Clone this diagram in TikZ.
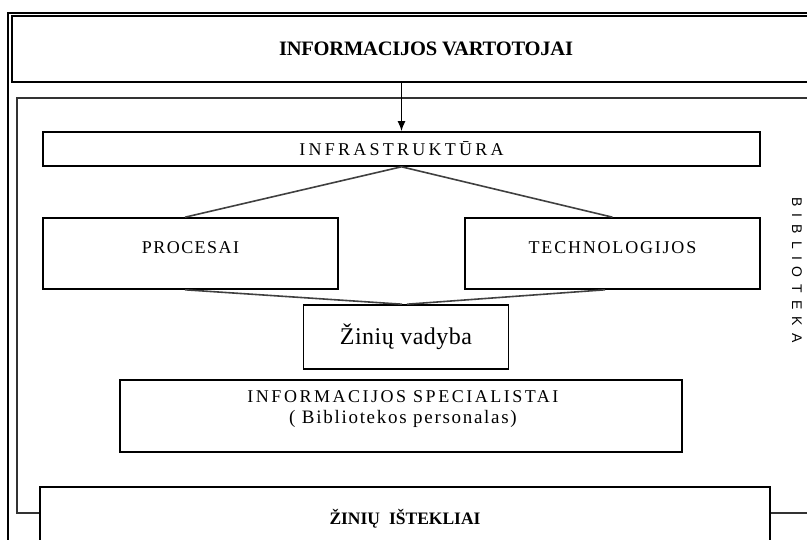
\documentclass[tikz,border=0pt]{standalone}
\usepackage{fontspec}
\setmainfont{Liberation Serif}
\newfontfamily\labsans{Liberation Sans}
\usetikzlibrary{arrows.meta}
\begin{document}
\begin{tikzpicture}[x=1pt,y=-1pt,
  box/.style={draw=black,line width=1.6pt,rectangle,inner sep=0pt},
  upbox/.style={box,text depth=12pt},
  conn/.style={draw=black!75,line width=1.6pt},
  frameline/.style={draw=black,line width=1.8pt},
  libline/.style={draw=black!80,line width=1.5pt}]
\useasboundingbox (0,0) rectangle (807,540);
\clip (0,0) rectangle (807,540);
% outer frame
\draw[frameline] (8,545) -- (8,13) -- (815,13);
% library frame
\draw[libline] (40,513) -- (17,513) -- (17,98) -- (815,98);
\draw[libline] (770,513) -- (815,513);
% top box
\node[box,minimum width=828pt,minimum height=66pt] (vart) at (426,49)
  {\fontsize{20.5}{24}\selectfont\bfseries\addfontfeature{LetterSpace=-1}INFORMACIJOS VARTOTOJAI};
% infrastructure
\node[box,minimum width=717pt,minimum height=34pt] (infra) at (401.5,149)
  {\fontsize{18}{21}\selectfont\addfontfeature{LetterSpace=18}INFRASTRUKTŪRA};
% processes and technologies
\node[upbox,minimum width=295pt,minimum height=71pt] (proc) at (190.5,253.5)
  {\fontsize{18}{21}\selectfont\addfontfeature{LetterSpace=8}PROCESAI};
\node[upbox,minimum width=295pt,minimum height=71pt] (tech) at (612.5,253.5)
  {\fontsize{18}{21}\selectfont\addfontfeature{LetterSpace=10}TECHNOLOGIJOS};
% knowledge management
\node[box,minimum width=205pt,minimum height=64pt] (zin) at (406,337)
  {\fontsize{24}{28}\selectfont\addfontfeature{LetterSpace=2}Žinių vadyba};
% specialists
\node[box,minimum width=562pt,minimum height=72pt] (spec) at (401,416) {};
\node[align=center,inner sep=0pt,font=\fontsize{18}{21}\selectfont] (spectext) at (403,409)
  {\addfontfeature{LetterSpace=14}INFORMACIJOS SPECIALISTAI\\
   \fontsize{19}{21}\selectfont\addfontfeature{LetterSpace=9}( Bibliotekos personalas)};
% knowledge resources
\node[box,minimum width=730pt,minimum height=64pt] (ist) at (405,519)
  {\fontsize{17.5}{20}\selectfont\bfseries ŽINIŲ\hspace{9pt}IŠTEKLIAI};
% library label
\node[rotate=-90,inner sep=0pt] (bib) at (797,270)
  {\labsans\fontsize{14}{16}\selectfont\addfontfeature{LetterSpace=50}BIBLIOTEKA};
% connectors
\draw[draw=black,line width=1.5pt,-{Latex[length=10pt,width=8pt]}] (vart.south -| infra.north) -- (infra.north);
\draw[conn] (proc.north -| 185,0) -- (infra.south) -- (tech.north);
\draw[conn] (proc.south -| 185,0) -- ([xshift=-4pt]zin.north);
\draw[conn] (tech.south -| 605,0) -- ([xshift=1pt]zin.north);
\end{tikzpicture}
\end{document}
